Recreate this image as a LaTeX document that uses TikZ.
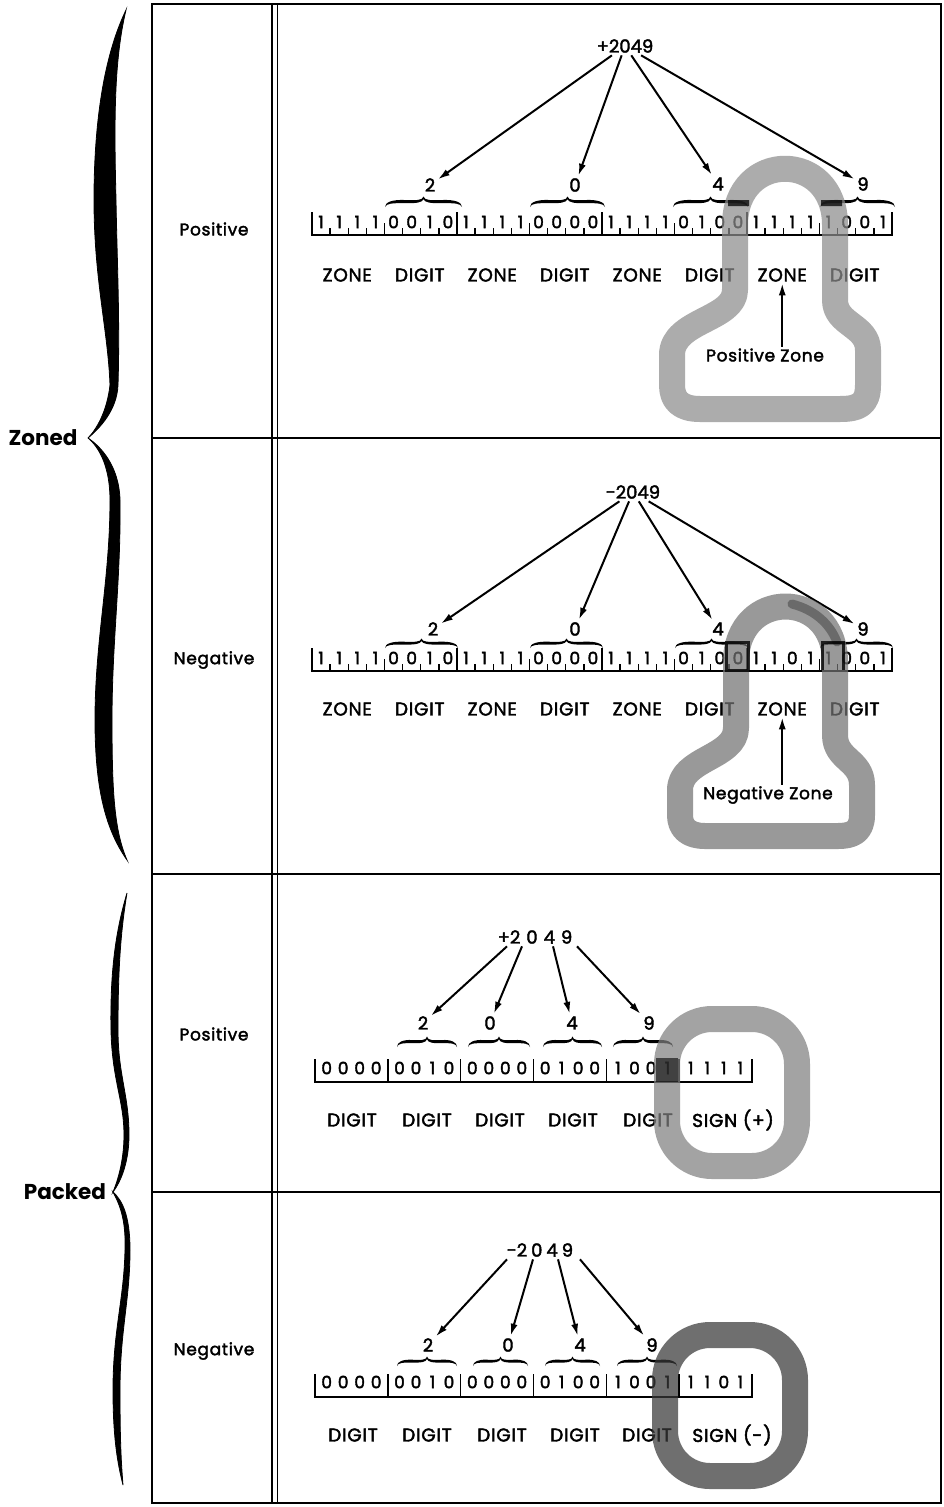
\documentclass[tikz,border=0pt]{standalone}
\usepackage{fontspec}
\setmainfont{Poppins}
\newfontfamily\wordfont[LetterSpace=4,FakeBold=2.2]{Poppins}
\newfontfamily\numfont[FakeBold=2.2]{Poppins}
\usetikzlibrary{arrows.meta}
\newcommand{\hbrc}[4]{%
  \begin{scope}[shift={(#1,#2)},xscale=#3,yscale=#4]
  \fill (-1,0) .. controls (-1,-0.5) and (-0.8,-0.74) .. (-0.5,-0.7)
    .. controls (-0.2,-0.66) and (-0.02,-0.64) .. (0,-1.05)
    .. controls (0.02,-0.64) and (0.2,-0.66) .. (0.5,-0.7)
    .. controls (0.8,-0.74) and (1,-0.5) .. (1,0)
    .. controls (0.97,-0.36) and (0.8,-0.4) .. (0.5,-0.38)
    .. controls (0.2,-0.36) and (0.03,-0.43) .. (0,-0.78)
    .. controls (-0.03,-0.43) and (-0.2,-0.36) .. (-0.5,-0.38)
    .. controls (-0.8,-0.4) and (-0.97,-0.36) .. (-1,0) -- cycle;
  \end{scope}}
\tikzset{
  lbl/.style={inner sep=0pt, font=\wordfont\fontsize{17}{20}\selectfont},
  big/.style={inner sep=0pt, font=\fontsize{21.5}{24}\selectfont\bfseries},
  num/.style={inner sep=2.5pt, font=\numfont\fontsize{18}{20}\selectfont},
  bit/.style={inner sep=0pt, font=\numfont\fontsize{17}{20}\selectfont},
  word/.style={inner sep=1.5pt, font=\wordfont\fontsize{18.5}{21}\selectfont},
  arr/.style={line width=2pt, -{Latex[length=12pt,width=7pt]}},
  frame/.style={line width=2.6pt},
  rule/.style={line width=1.9pt, line cap=butt},
  rtick/.style={line width=1.4pt},
  band/.style={line width=26pt, line join=round, opacity=0.72},
  hilite/.style={line width=3pt, opacity=0.8},
}
\begin{document}
\begin{tikzpicture}[x=1pt,y=-1pt]
\useasboundingbox (0,0) rectangle (943,1507);
\fill[white] (0,0) rectangle (943,1507);

% ---------- frame ----------
\draw[frame] (152,4) rectangle (941,1503);
\draw[line width=1.7pt] (272,4) -- (272,1503) (277.5,4) -- (277.5,1503);
\draw[frame] (152,438) -- (941,438) (152,874) -- (941,874) (152,1192) -- (941,1192);

% ---------- left labels ----------
\node[lbl] (l1) at (214,229) {Positive};
\node[lbl] (l2) at (214,660) {Negative};
\node[lbl] (l3) at (214,1034) {Positive};
\node[lbl] (l4) at (214,1351) {Negative};
\node[big] (zoned) at (43,438) {Zoned};
\node[big] (packed) at (65,1192) {Packed};

% big braces
\filldraw[line width=0.8pt] (126,10) .. controls (102,60) and (94,130) .. (94,200)
  .. controls (94,280) and (108,330) .. (110,385) .. controls (107,412) and (96,430) .. (88,438)
  .. controls (100,428) and (117,410) .. (118,385) .. controls (120,320) and (117,260) .. (116,200)
  .. controls (114,120) and (114,60) .. (126,10) -- cycle;
\filldraw[line width=0.8pt] (88,438) .. controls (100,448) and (110,468) .. (110,500)
  .. controls (110,580) and (95,640) .. (95,720) .. controls (95,790) and (106,830) .. (127,860)
  .. controls (114,830) and (112,790) .. (112,720) .. controls (112,640) and (121,580) .. (120,500)
  .. controls (119,465) and (100,446) .. (88,438) -- cycle;
\filldraw[line width=0.8pt] (127,893) .. controls (116,930) and (110,970) .. (111,1030)
  .. controls (112,1080) and (124,1100) .. (124,1135) .. controls (124,1160) and (118,1180) .. (113,1192)
  .. controls (122,1180) and (129,1160) .. (129,1135) .. controls (129,1095) and (118,1075) .. (118,1030)
  .. controls (118,975) and (120,935) .. (127,893) -- cycle;
\filldraw[line width=0.8pt] (113,1192) .. controls (120,1205) and (126,1220) .. (125,1250)
  .. controls (124,1300) and (113,1330) .. (113,1390) .. controls (113,1440) and (118,1465) .. (123,1485)
  .. controls (121,1460) and (120,1440) .. (120,1390) .. controls (120,1330) and (130,1300) .. (130,1250)
  .. controls (130,1215) and (122,1200) .. (113,1192) -- cycle;

% ---------- Zoned positive ----------
\node[num] (zp) at (625,46) {+2049};
\node[num] (zp2) at (430,185) {2};
\node[num] (zp0) at (575,185) {0};
\node[num] (zp4) at (718,184) {4};
\node[num] (zp9) at (863,184) {9};
\foreach \t in {zp2,zp0,zp4,zp9} \draw[arr] (zp) -- (\t);
\hbrc{423.5}{207}{38.5}{10}
\hbrc{567.5}{207}{37.5}{10}
\hbrc{710.5}{207}{37.5}{10}
\hbrc{857.5}{207}{37.5}{10}
\foreach \b [count=\i from 0] in {1,1,1,1,0,0,1,0,1,1,1,1,0,0,0,0,1,1,1,1,0,1,0,0,1,1,1,1,1,0,0,1}
  \node[bit] (zpb\i) at ({312+18.125*(\i+0.5)},222) {\b};
\draw[rule] (312,212) -- (312,235) -- (892,235) -- (892,212);
\foreach \k in {1,2,3} \draw[rtick] ({312+145*\k},235) -- ++(0,-23);
\foreach \k in {0,...,3} \draw[rtick] ({312+145*\k+72.5},235) -- ++(0,-12);
\foreach \k in {0,...,3} \foreach \i in {1,2,3,5,6,7} \draw[rtick] ({312+145*\k+18.125*\i},235) -- ++(0,-7);
\foreach \w [count=\i from 0] in {ZONE,DIGIT,ZONE,DIGIT,ZONE,DIGIT,ZONE,DIGIT}
  \node[word] (zpw\i) at ({311+72.5*(\i+0.5)},275) {\w};
\draw[band, draw=black!45] (735,225) .. controls (735,150) and (835,150) .. (835,225) -- (835,300)
  .. controls (835,325) and (868,325) .. (868,350) -- (868,385)
  .. controls (868,405) and (858,409) .. (840,409) -- (700,409)
  .. controls (680,409) and (672,400) .. (672,385) -- (672,355)
  .. controls (672,320) and (735,320) .. (735,290) -- cycle;
\fill[opacity=0.75] (728,200) rectangle (749,206) (821,200) rectangle (842,206);
\node[word, font=\wordfont\fontsize{17}{20}\selectfont] (pzl) at (765,355) {Positive Zone};
\draw[arr] (pzl.north -| zpw6) -- (zpw6.south);

% ---------- Zoned negative ----------
\node[num] (zn) at (633,492) {-2049};
\node[num] (zn2) at (433,629) {2};
\node[num] (zn0) at (575,629) {0};
\node[num] (zn4) at (718,629) {4};
\node[num] (zn9) at (863,629) {9};
\foreach \t in {zn2,zn0,zn4,zn9} \draw[arr] (zn) -- (\t);
\hbrc{421.5}{648}{36.5}{9}
\hbrc{566.5}{648}{36.5}{9}
\hbrc{711.5}{648}{36.5}{9}
\hbrc{856.5}{648}{36.5}{9}
\foreach \b [count=\i from 0] in {1,1,1,1,0,0,1,0,1,1,1,1,0,0,0,0,1,1,1,1,0,1,0,0,1,1,0,1,1,0,0,1}
  \node[bit] (znb\i) at ({312+18.125*(\i+0.5)},658) {\b};
\draw[rule] (312,648) -- (312,671) -- (892,671) -- (892,648);
\foreach \k in {1,2,3} \draw[rtick] ({312+145*\k},671) -- ++(0,-23);
\foreach \k in {0,...,3} \draw[rtick] ({312+145*\k+72.5},671) -- ++(0,-12);
\foreach \k in {0,...,3} \foreach \i in {1,2,3,5,6,7} \draw[rtick] ({312+145*\k+18.125*\i},671) -- ++(0,-7);
\foreach \w [count=\i from 0] in {ZONE,DIGIT,ZONE,DIGIT,ZONE,DIGIT,ZONE,DIGIT}
  \node[word] (znw\i) at ({311+72.5*(\i+0.5)},709) {\w};
\draw[band, draw=black!55] (736,662) .. controls (736,588) and (835,588) .. (835,662) -- (835,735)
  .. controls (835,760) and (862,760) .. (862,785) -- (862,815)
  .. controls (862,832) and (852,836) .. (838,836) -- (705,836)
  .. controls (688,836) and (680,828) .. (680,815) -- (680,790)
  .. controls (680,758) and (736,758) .. (736,728) -- cycle;
\draw[hilite] (726,642) rectangle (748,670);
\draw[hilite] (843,670) -- (843,642) -- (822,642) -- (822,670);
\draw[line width=9pt, opacity=0.3, line cap=round] (792,604) .. controls (815,610) and (830,624) .. (837,642);
\node[word, font=\wordfont\fontsize{17}{20}\selectfont] (nzl) at (768,795) {Negative Zone};
\draw[arr] (nzl.north -| znw6) -- (znw6.south);

% ---------- Packed positive ----------
\node[num] (pp) at (535,937) {+2\kern6pt0\kern6pt4\kern6pt9};
\node[num] (pp2) at (423,1023) {2};
\node[num] (pp0) at (490,1023) {0};
\node[num] (pp4) at (572,1023) {4};
\node[num] (pp9) at (649,1023) {9};
\draw[arr] ([xshift=-28pt]pp.south) -- (pp2);
\draw[arr] ([xshift=-13pt]pp.south) -- (pp0);
\draw[arr] ([xshift=18pt]pp.south) -- (pp4);
\draw[arr] ([xshift=42pt]pp.south) -- (pp9);
\hbrc{427}{1047}{30}{10}
\hbrc{499}{1047}{31}{10}
\hbrc{572.5}{1047}{29.5}{10}
\hbrc{643}{1047}{30}{10}
\foreach \b [count=\i from 0] in {0,0,0,0,0,0,1,0,0,0,0,0,0,1,0,0,1,0,0,1,1,1,1,1}
  \node[bit] (ppb\i) at ({315+72.833*(int(\i/4)+0.5)+16.5*(mod(\i,4)-1.5)},1068) {\b};
\draw[rule] (315,1059) -- (315,1082) -- (752,1082) -- (752,1059);
\foreach \k in {1,...,5} \draw[rtick] ({315+72.833*\k},1082) -- ++(0,-23);
\foreach \w/\x [count=\i from 0] in {DIGIT/352,DIGIT/427,DIGIT/500,DIGIT/573,DIGIT/648,SIGN (+)/733}
  \node[word] (ppw\i) at (\x,1120) {\w};
\draw[band, draw=black!50, rounded corners=45pt] (667,1019) rectangle (797,1166);
\fill[opacity=0.6] (656,1058) rectangle (678,1082);

% ---------- Packed negative ----------
\node[num] (pn) at (540,1250) {-2\kern4pt0\kern4pt4\kern4pt9};
\node[num] (pn2) at (428,1345) {2};
\node[num] (pn0) at (508,1345) {0};
\node[num] (pn4) at (580,1345) {4};
\node[num] (pn9) at (652,1345) {9};
\draw[arr] ([xshift=-33pt]pn.south) -- (pn2);
\draw[arr] ([xshift=-7pt]pn.south) -- (pn0);
\draw[arr] ([xshift=18pt]pn.south) -- (pn4);
\draw[arr] ([xshift=40pt]pn.south) -- (pn9);
\hbrc{427}{1366}{30}{9}
\hbrc{500.5}{1366}{27.5}{9}
\hbrc{572.5}{1366}{27.5}{9}
\hbrc{647}{1366}{30}{9}
\foreach \b [count=\i from 0] in {0,0,0,0,0,0,1,0,0,0,0,0,0,1,0,0,1,0,0,1,1,1,0,1}
  \node[bit] (pnb\i) at ({315+72.833*(int(\i/4)+0.5)+16.5*(mod(\i,4)-1.5)},1382) {\b};
\draw[rule] (315,1374) -- (315,1397) -- (752,1397) -- (752,1374);
\foreach \k in {1,...,5} \draw[rtick] ({315+72.833*\k},1397) -- ++(0,-23);
\foreach \w/\x [count=\i from 0] in {DIGIT/353,DIGIT/427,DIGIT/502,DIGIT/575,DIGIT/647,SIGN (-)/732}
  \node[word] (pnw\i) at (\x,1435) {\w};
\draw[band, draw=black!78, rounded corners=45pt] (665,1335) rectangle (795,1476);
\end{tikzpicture}
\end{document}
